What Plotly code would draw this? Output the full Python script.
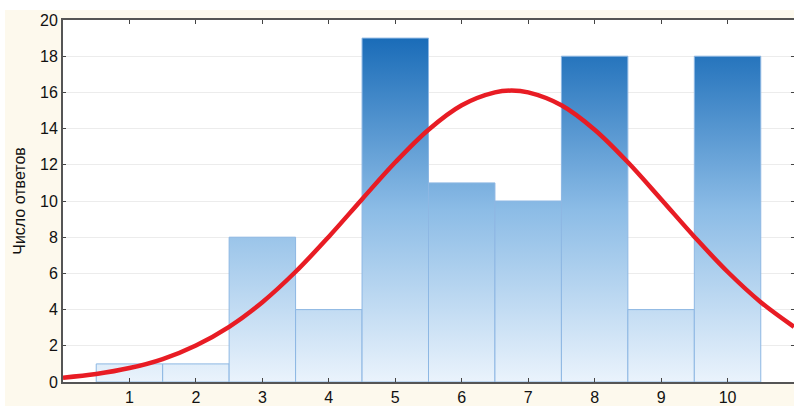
import plotly.graph_objects as go

# Histogram: answer score categories and counts
categories = [1, 2, 3, 4, 5, 6, 7, 8, 9, 10]
counts = [1, 1, 8, 4, 19, 11, 10, 18, 4, 18]

# Fitted normal curve
curve_x = [0, 0.5, 1, 1.5, 2, 2.5, 3, 3.5, 4, 4.5, 5, 5.5, 6, 6.5, 6.75, 7, 7.5, 8, 8.5, 9, 9.5, 10, 10.5, 11]
curve_y = [0.24, 0.44, 0.77, 1.27, 2.02, 3.05, 4.41, 6.09, 8.03, 10.1, 12.14, 13.94, 15.29, 16.0, 16.1, 16.0, 15.29, 13.94, 12.14, 10.1, 8.03, 6.09, 4.41, 3.05]

y_ticks = [0, 2, 4, 6, 8, 10, 12, 14, 16, 18, 20]
y_title = "Число ответов"

fig = go.Figure()

for c, v in zip(categories, counts):
    fig.add_trace(go.Scatter(
        x=[c - 0.5, c - 0.5, c + 0.5, c + 0.5, c - 0.5],
        y=[0, v, v, 0, 0],
        mode="lines",
        fill="toself",
        line=dict(color="#8db7e3", width=1),
        fillgradient=dict(
            type="vertical",
            colorscale=[[0, "#eaf3fc"], [0.5, "#8cbce6"], [1, "#1a6cb8"]],
            start=0, stop=19,
        ),
        hoverinfo="skip",
        showlegend=False,
    ))

fig.add_trace(go.Scatter(
    x=curve_x, y=curve_y, mode="lines",
    line=dict(color="#e81c24", width=4.5, shape="spline"),
    showlegend=False,
))

W, H = 794, 406
ml, mr, mt, mb = 63, 0, 20, 24
pw, ph = W - ml - mr, H - mt - mb

# white strips at top and left edges of the image (cream paper elsewhere)
fig.add_shape(type="rect", xref="paper", yref="paper", layer="below",
              x0=-ml / pw, x1=1.01, y0=1 + (mt - 10) / ph, y1=1 + mt / ph + 0.01,
              fillcolor="white", line=dict(width=0))
fig.add_shape(type="rect", xref="paper", yref="paper", layer="below",
              x0=-ml / pw - 0.01, x1=(5 - ml) / pw, y0=-mb / ph - 0.01, y1=1 + mt / ph + 0.01,
              fillcolor="white", line=dict(width=0))

fig.update_layout(
    width=W, height=H,
    margin=dict(l=ml, r=mr, t=mt, b=mb, autoexpand=False),
    paper_bgcolor="#fdf9ed",
    plot_bgcolor="white",
    font=dict(family="Liberation Sans, Arial, sans-serif", size=16, color="#111111"),
    xaxis=dict(
        range=[0, 11], tickvals=categories, ticks="inside", ticklen=4,
        tickcolor="#444", showline=True, linecolor="#555", linewidth=2,
        mirror="ticks", showgrid=False, zeroline=False,
        tickfont=dict(size=16), automargin=False,
    ),
    yaxis=dict(
        range=[0, 20], tickvals=y_ticks, ticks="inside", ticklen=3,
        tickcolor="#444", showline=True, linecolor="#555", linewidth=2,
        mirror="ticks", showgrid=True, gridcolor="#ececec", gridwidth=1,
        zeroline=False, tickfont=dict(size=16), automargin=False,
        title=dict(text=y_title, font=dict(size=16), standoff=10),
    ),
)

fig.write_html("out.html", config={"displayModeBar": False},
               post_script="document.body.style.margin='0';document.body.style.overflow='hidden';")
